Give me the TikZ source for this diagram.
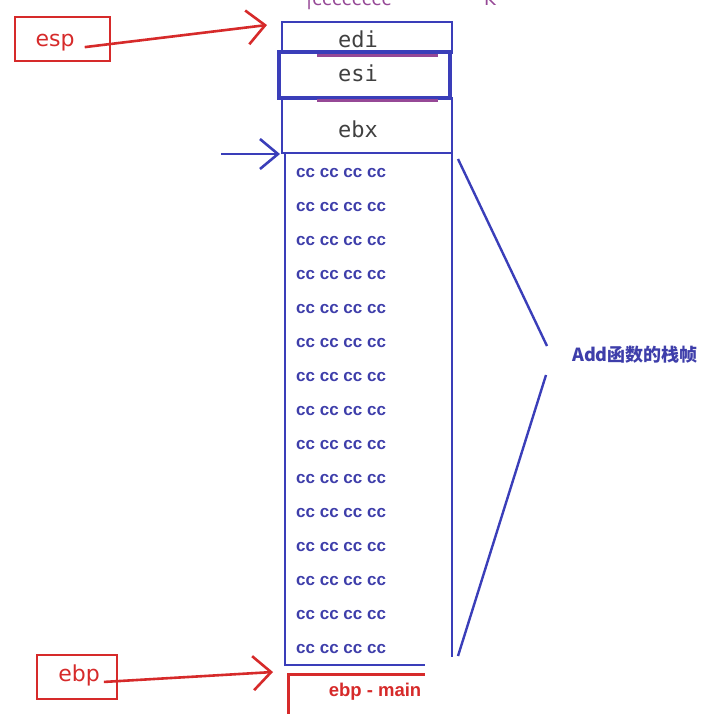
\documentclass[tikz,border=0pt]{standalone}
\usepackage{fontspec}
\setmainfont{DejaVu Sans}
\newfontfamily\monof{DejaVu Sans Mono}
\newfontfamily\arialf{Liberation Sans}
\newfontfamily\cjk{Noto Sans CJK SC}
\usetikzlibrary{arrows.meta}
\definecolor{myred}{RGB}{214,42,42}
\definecolor{myblue}{RGB}{58,62,185}
\definecolor{txtblue}{RGB}{62,62,170}
\definecolor{mypurple}{RGB}{150,72,150}
\definecolor{mygray}{RGB}{64,64,64}
\tikzset{
  redbox/.style={draw=myred, line width=2.8pt, rectangle, inner sep=0pt},
  bluebox/.style={draw=myblue, line width=2.8pt, rectangle, inner sep=0pt},
  regtxt/.style={text=myred, font=\fontsize{22}{22}\selectfont, inner sep=0pt},
  regtxtm/.style={text=mygray, font=\monof\fontsize{22}{22}\selectfont, inner sep=0pt},
  cctext/.style={text=txtblue, font=\arialf\bfseries\fontsize{17}{17}\selectfont, inner sep=0pt, anchor=west},
  redarrow/.style={draw=myred, line width=2.6pt, -{Straight Barb[length=18pt,width=34pt,line width=2.6pt]}},
  bluearrow/.style={draw=myblue, line width=2.6pt, -{Straight Barb[length=18pt,width=30pt,line width=2.6pt]}},
  braceline/.style={draw=myblue, line width=2.4pt},
  purpleline/.style={draw=mypurple, line width=3pt}
}
\begin{document}
\begin{tikzpicture}[x=1pt,y=-1pt]
\useasboundingbox (0,0) rectangle (714,713);
\clip (0,0) rectangle (714,713);
% top partial text
\node[anchor=base west, inner sep=0pt, text=mypurple, font=\fontsize{18}{18}\selectfont] (toptxt) at (306,5) {|cccccccc};
\node[anchor=base west, inner sep=0pt, text=mypurple, font=\fontsize{18}{18}\selectfont] (topk) at (484,5) {K};
% esp
\node[redbox, minimum width=95pt, minimum height=44pt] (espbox) at (62.5,39) {};
\node[regtxt, anchor=base] (esp) at (55,46) {esp};
% register boxes
\node[bluebox, minimum width=170pt, minimum height=31pt] (edi) at (367,37.5) {};
\node[bluebox, minimum width=170pt, minimum height=55pt] (ebx) at (367,125.5) {};
\node[bluebox, line width=3.6pt, minimum width=171pt, minimum height=46pt] (esi) at (364.5,75) {};
\draw[purpleline] (317,55) -- (438,55);
\draw[purpleline] (317,100) -- (438,100);
\node[regtxtm, anchor=base] (editxt) at (358,47) {edi};
\node[regtxtm, anchor=base] (esitxt) at (358,81) {esi};
\node[regtxtm, anchor=base] (ebxtxt) at (358,137) {ebx};
% cc frame
\node[bluebox, minimum width=167pt, minimum height=512pt] (ccbox) at (368.5,409) {};
\foreach \i in {0,...,14}{
  \node[cctext] (cc\i) at ({296},{173+\i*34}) {cc cc cc cc};
}
% arrows
\coordinate (esptip) at (267,25);
\draw[redarrow] (esp.east) ++(10,5) -- (esptip);
\coordinate (bstart) at (221,154);
\coordinate (btip) at (280,154);
\draw[bluearrow] (bstart) -- (btip);
% label and brace lines
\node[anchor=west, inner sep=0pt, text=txtblue, font=\cjk\bfseries\fontsize{18}{18}\selectfont] (addlbl) at (572,355) {Add函数的栈帧};
\coordinate (b1) at (458,159);
\coordinate (b2) at (547,346);
\coordinate (b3) at (546,375);
\coordinate (b4) at (458,656);
\draw[braceline] (b1) -- (b2);
\draw[braceline] (b3) -- (b4);
% ebp
\node[redbox, minimum width=80pt, minimum height=44pt] (ebpbox) at (77,677) {};
\node[regtxt, anchor=base] (ebp) at (79,681) {ebp};
\node[redbox, minimum width=150pt, minimum height=60pt, anchor=north west] (mainbox) at (287,673) {};
\node[text=myred, font=\arialf\bfseries\fontsize{18.5}{18.5}\selectfont, inner sep=0pt, anchor=base] (maintxt) at (375,696) {ebp - main};
\coordinate (ebptip) at (273,672);
\draw[redarrow] (ebp.east) ++(4,7) -- (ebptip);
% white patch covering bottom right
\fill[white] (425,657) rectangle (730,740);
\end{tikzpicture}
\end{document}
